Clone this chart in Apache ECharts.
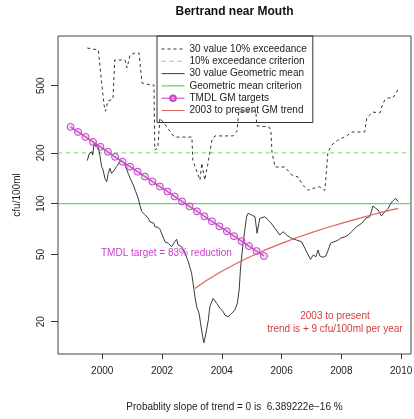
<!DOCTYPE html>
<html>
<head>
<meta charset="utf-8">
<script src="https://cdn.jsdelivr.net/npm/echarts@6/dist/echarts.min.js"></script>
<style>
  html, body { margin: 0; padding: 0; background: #fff; }
  #chart { width: 414px; height: 419px; }
</style>
</head>
<body>
<div id="chart"></div>
<script>
// Tick positions
const yearTicks = [2000, 2002, 2004, 2006, 2008, 2010];
const cfuTicks = [20, 50, 100, 200, 500];

// Axis ranges
const yearRange = [1998.52, 2010.33];
const cfuRange = [12.87, 985];

// Criteria (cfu/100ml)
const exceedanceCriterion = 200;
const gmCriterion = 100;

// Rolling 30-value 10% exceedance, [year, cfu/100ml]
const exceedancePoints = [
  [1999.50, 836], [1999.87, 814], [1999.93, 810], [1999.97, 540], [2000.06, 384],
  [2000.11, 353], [2000.19, 406], [2000.36, 417], [2000.42, 710], [2000.76, 710],
  [2000.83, 637], [2000.89, 637], [2000.93, 760], [2001.09, 781], [2001.23, 781],
  [2001.33, 519], [2001.63, 505], [2001.73, 505], [2001.76, 208], [2001.86, 214],
  [2001.93, 322], [2002.16, 285], [2002.36, 255], [2002.42, 248], [2003.00, 248],
  [2003.03, 181], [2003.27, 138], [2003.33, 174], [2003.43, 138], [2003.54, 174],
  [2003.67, 238], [2003.77, 252], [2004.37, 252], [2004.51, 269], [2004.57, 354],
  [2005.14, 354], [2005.17, 289], [2005.58, 285], [2005.64, 273], [2005.68, 202],
  [2005.78, 165], [2006.11, 165], [2006.34, 148], [2006.55, 144], [2006.71, 129],
  [2006.88, 120], [2007.11, 124], [2007.28, 126], [2007.45, 120], [2007.55, 202],
  [2007.68, 223], [2007.88, 238], [2008.18, 252], [2008.35, 266], [2008.78, 266],
  [2008.85, 322], [2009.05, 349], [2009.29, 345], [2009.35, 374], [2009.45, 411],
  [2009.55, 423], [2009.72, 423], [2009.85, 459], [2009.89, 472]
];

// Rolling 30-value geometric mean, [year, cfu/100ml]
const gmPoints = [
  [1999.50, 180], [1999.57, 199], [1999.65, 203], [1999.68, 194], [1999.73, 228],
  [1999.78, 218], [1999.85, 223], [1999.92, 194], [1999.98, 166], [2000.03, 158],
  [2000.09, 141], [2000.15, 135], [2000.20, 151], [2000.26, 162], [2000.31, 151],
  [2000.40, 158], [2000.48, 166], [2000.56, 175], [2000.65, 180], [2000.73, 175],
  [2000.78, 166], [2000.87, 151], [2000.96, 138], [2001.04, 129], [2001.12, 118],
  [2001.20, 108], [2001.26, 98], [2001.32, 90], [2001.37, 88], [2001.43, 86],
  [2001.54, 82], [2001.60, 78], [2001.65, 80], [2001.73, 76.5], [2001.76, 73],
  [2001.82, 71.5], [2001.87, 72.5], [2001.93, 70.5], [2002.01, 65.2], [2002.10, 59.5],
  [2002.21, 58.3], [2002.32, 55.6], [2002.43, 59.5], [2002.49, 61.5], [2002.54, 56.9],
  [2002.66, 55.6], [2002.77, 50.8], [2002.88, 45.3], [2002.99, 38.7], [2003.04, 33.8],
  [2003.10, 28.1], [2003.16, 24.5], [2003.24, 22.4], [2003.29, 19.6], [2003.36, 16.3],
  [2003.40, 15.0], [2003.47, 17.1], [2003.55, 20.5], [2003.60, 24.5], [2003.71, 27.5],
  [2003.83, 25.7], [2003.94, 24.0], [2004.05, 22.9], [2004.10, 21.9], [2004.21, 21.4],
  [2004.33, 22.4], [2004.44, 23.5], [2004.52, 25.7], [2004.58, 30.8], [2004.63, 42.3],
  [2004.70, 55.6], [2004.77, 69.8], [2004.83, 83.7], [2004.88, 87.7], [2005.00, 85.7],
  [2005.11, 83.7], [2005.18, 66.8], [2005.24, 76.5], [2005.27, 81.9], [2005.44, 83.7],
  [2005.61, 78.2], [2005.78, 71.5], [2005.94, 65.2], [2006.05, 68.3], [2006.17, 65.2],
  [2006.33, 62.4], [2006.50, 60.9], [2006.67, 59.5], [2006.78, 54.4], [2006.89, 49.7],
  [2006.97, 46.8], [2007.06, 49.7], [2007.15, 48.5], [2007.22, 53.2], [2007.28, 49.0],
  [2007.39, 48.1], [2007.48, 49.0], [2007.56, 53.2], [2007.64, 58.3], [2007.75, 59.5],
  [2007.86, 60.4], [2007.97, 62.4], [2008.12, 63.7], [2008.23, 65.2], [2008.34, 68.3],
  [2008.51, 73.1], [2008.68, 76.5], [2008.82, 81.9], [2008.95, 83.7], [2009.06, 96.9],
  [2009.15, 93.9], [2009.23, 91.7], [2009.34, 84.6], [2009.46, 89.7], [2009.57, 93.9],
  [2009.65, 100.5], [2009.73, 104.2], [2009.82, 107.6], [2009.90, 102.8]
];

// Quarterly TMDL geometric-mean targets (83% reduction)
const targetYears = [
  1998.94, 1999.19, 1999.44, 1999.69, 1999.94, 2000.19, 2000.43, 2000.68, 2000.93,
  2001.18, 2001.43, 2001.68, 2001.93, 2002.18, 2002.42, 2002.67, 2002.92, 2003.17,
  2003.42, 2003.67, 2003.92, 2004.17, 2004.41, 2004.66, 2004.91, 2005.16, 2005.41
];
const targetValues = [
  285, 266, 248.6, 232.3, 217.1, 202.9, 189.6, 177.2, 165.6,
  154.8, 144.7, 135.2, 126.4, 118.1, 110.4, 103.1, 96.4, 90.1,
  84.2, 78.7, 73.5, 68.7, 64.2, 60.0, 56.1, 52.4, 49.0
];

// 2003-to-present linear GM trend (about +9 cfu/100ml per year)
const trendYears = [
  2003.1, 2003.5, 2004.0, 2004.5, 2005.0, 2005.5, 2006.0, 2006.5,
  2007.0, 2007.5, 2008.0, 2008.5, 2009.0, 2009.5, 2009.9
];
const trendValues = [
  31.5, 35.2, 39.8, 44.4, 49.0, 53.6, 58.2, 62.8,
  67.4, 72.0, 76.5, 81.1, 85.7, 90.3, 93.9
];

const FONT = '"Liberation Sans", Arial, Helvetica, sans-serif';
const zip = (xs, ys) => xs.map((x, i) => [x, ys[i]]);
const acrossPlot = (level) => [[yearRange[0], level], [yearRange[1], level]];

const chart = echarts.init(document.getElementById('chart'), null, { renderer: 'canvas' });

const noSymbolLegend = { itemStyle: { opacity: 0 } };

chart.setOption({
  animation: false,
  backgroundColor: '#ffffff',
  textStyle: { fontFamily: FONT },
  title: [
    {
      text: 'Bertrand near Mouth', left: 234.5, top: 6, textAlign: 'center', padding: 0,
      textStyle: { fontFamily: FONT, fontSize: 12, fontWeight: 'bold', color: '#111' }
    },
    {
      text: 'Probablity slope of trend = 0 is  6.389222e\u221216 %', left: 234.5, top: 402,
      textAlign: 'center', padding: 0,
      textStyle: { fontFamily: FONT, fontSize: 10, fontWeight: 'normal', color: '#222' }
    },
    {
      text: 'TMDL target = 83% reduction', left: 101, top: 248, padding: 0,
      textStyle: { fontFamily: FONT, fontSize: 10, fontWeight: 'normal', color: '#cc3ccc' }
    },
    {
      text: '2003 to present\ntrend is + 9 cfu/100ml per year', left: 335, top: 310,
      textAlign: 'center', padding: 0,
      textStyle: { fontFamily: FONT, fontSize: 10, fontWeight: 'normal', color: '#d23c3c', lineHeight: 12.5, align: 'center' }
    }
  ],
  legend: {
    orient: 'vertical',
    left: 157, top: 36,
    padding: [7, 6, 6, 4],
    itemWidth: 23, itemHeight: 7, itemGap: 0.3,
    borderColor: '#333', borderWidth: 1, borderRadius: 0,
    backgroundColor: 'transparent',
    lineStyle: { width: 1 },
    textStyle: { fontFamily: FONT, fontSize: 10, color: '#222', lineHeight: 12 },
    data: [
      Object.assign({ name: '30 value 10% exceedance' }, noSymbolLegend),
      Object.assign({ name: '10% exceedance criterion' }, noSymbolLegend),
      Object.assign({ name: '30 value Geometric mean' }, noSymbolLegend),
      Object.assign({ name: 'Geometric mean criterion' }, noSymbolLegend),
      { name: 'TMDL GM targets' },
      Object.assign({ name: '2003 to present GM trend' }, noSymbolLegend)
    ]
  },
  grid: {
    left: 58, right: 3, top: 36, bottom: 65,
    show: true, borderColor: '#444', borderWidth: 1,
    outerBoundsMode: 'none'
  },
  xAxis: {
    type: 'value', min: yearRange[0], max: yearRange[1],
    axisLine: { show: false },
    splitLine: { show: false },
    axisTick: { length: 5, customValues: yearTicks, lineStyle: { color: '#333' } },
    axisLabel: {
      customValues: yearTicks, margin: 12, fontSize: 10, color: '#222', fontFamily: FONT,
      formatter: (v) => String(v)
    }
  },
  yAxis: {
    type: 'log', logBase: 10, min: cfuRange[0], max: cfuRange[1],
    name: 'cfu/100ml', nameLocation: 'middle', nameGap: 36, nameRotate: 90,
    nameTextStyle: { fontFamily: FONT, fontSize: 10, color: '#222' },
    axisLine: { show: false },
    splitLine: { show: false },
    minorTick: { show: false },
    axisTick: { length: 7, customValues: cfuTicks, lineStyle: { color: '#333' } },
    axisLabel: {
      customValues: cfuTicks, rotate: 90, margin: 12, fontSize: 10, color: '#222', fontFamily: FONT,
      formatter: (v) => String(v)
    }
  },
  series: [
    {
      name: '30 value 10% exceedance', type: 'line', data: exceedancePoints,
      symbol: 'none', color: '#333',
      lineStyle: { color: '#333', width: 1, type: [3, 3] }, z: 3
    },
    {
      name: '10% exceedance criterion', type: 'line', data: acrossPlot(exceedanceCriterion),
      symbol: 'none', color: '#6fdc6f',
      lineStyle: { color: '#6fdc6f', width: 1, type: [4, 4] }, z: 2
    },
    {
      name: '30 value Geometric mean', type: 'line', data: gmPoints,
      symbol: 'none', color: '#3a3a3a',
      lineStyle: { color: '#3a3a3a', width: 1 }, z: 4
    },
    {
      name: 'Geometric mean criterion', type: 'line', data: acrossPlot(gmCriterion),
      symbol: 'none', color: '#3fcc3f',
      lineStyle: { color: '#3fcc3f', width: 1 }, z: 2
    },
    {
      name: 'TMDL GM targets', type: 'line', data: zip(targetYears, targetValues),
      symbol: 'circle', symbolSize: 7, showSymbol: true, color: '#c43fc4',
      lineStyle: { color: '#c43fc4', width: 1.5 },
      itemStyle: { color: 'rgba(215,150,215,0.3)', borderColor: '#c43fc4', borderWidth: 1 },
      z: 5
    },
    {
      name: '2003 to present GM trend', type: 'line', data: zip(trendYears, trendValues),
      symbol: 'none', smooth: false, color: '#dc6460',
      lineStyle: { color: '#dc6460', width: 1.2 }, z: 4
    }
  ]
});
</script>
</body>
</html>
